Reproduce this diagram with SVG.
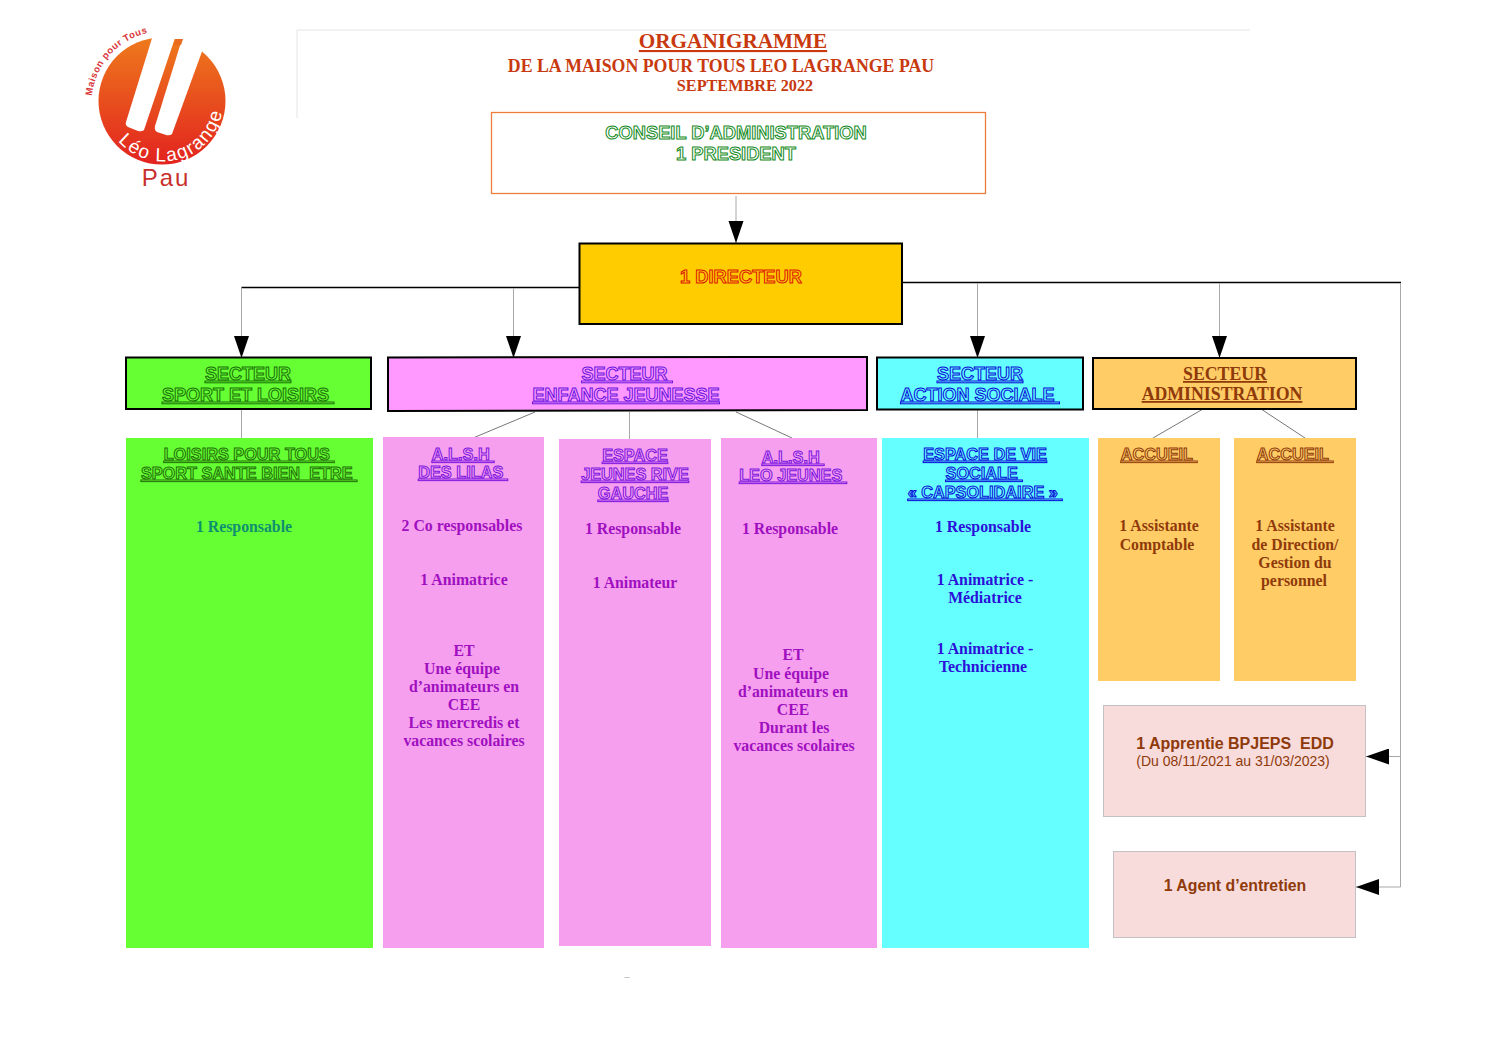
<svg xmlns="http://www.w3.org/2000/svg" width="1497" height="1058" viewBox="0 0 1497 1058">
<style>
text{text-anchor:middle}
.s{font-family:"Liberation Serif",serif;font-weight:bold}
.a{font-family:"Liberation Sans",sans-serif;font-weight:bold}
.o{font-family:"Liberation Sans",sans-serif;font-weight:bold;font-size:18px;stroke-width:1px;text-decoration:underline}
.o2{font-size:16.300px}
.b{font-size:15.800px}
.thin{stroke:#a8a8a8;stroke-width:1;fill:none}
.dk{stroke:#000;stroke-width:1.6;fill:none}
.diag{stroke:#555;stroke-width:.8;fill:none}
.box{stroke:#000;stroke-width:2}
.pk{fill:#f79fef}.or{fill:#ffcc66}.cy{fill:#66ffff}.gr{fill:#66ff33}
.pl{fill:#f8dcdc;stroke:#c4c0c4;stroke-width:1}
.v{fill:#a010c0}.br{fill:#8f3a0a}.bl{fill:#2a10d8}
</style>
<defs>
<marker id="ah" markerWidth="22" markerHeight="16" refX="22" refY="8" orient="auto" markerUnits="userSpaceOnUse"><path d="M0 .5L22 8L0 15.500Z" fill="#000"/></marker>
<marker id="ahl" markerWidth="23" markerHeight="16" refX="23" refY="8" orient="auto" markerUnits="userSpaceOnUse"><path d="M0 0L23 8L0 16Z" fill="#000"/></marker>
<linearGradient id="lg" x1="0" y1="0" x2="0" y2="1"><stop offset="0" stop-color="#ee7a1c"/><stop offset="1" stop-color="#e2231f"/></linearGradient>
<path id="p1" d="M92 96A72 72 0 0 1 152 32"/>
<path id="p2" d="M118 141A60 60 0 0 0 223 104"/>
</defs>

<g id="logo">
<circle cx="162" cy="101" r="63.500" fill="url(#lg)"/>
<path d="M153 35L176 35L144 130Q142 132 138 131L128 127Q125 125 126 122Z" fill="#fff"/>
<path d="M183 36L204 46L172 134Q170 136 166 135L157 132Q154 130 155 126Z" fill="#fff"/>
<path d="M176 32H183V40H176Z" fill="#fff"/>
<path d="M176 39H183L181 45H174Z" fill="#ea6a1e"/>
<text font-family="Liberation Sans,sans-serif" font-weight="bold" font-size="9.500" fill="#d9363a" letter-spacing=".55" style="text-anchor:start"><textPath href="#p1">Maison pour Tous</textPath></text>
<text font-family="Liberation Sans,sans-serif" font-size="19" fill="#fff" letter-spacing="1.500" style="text-anchor:start"><textPath href="#p2">Léo Lagrange</textPath></text>
<text x="166" y="186" font-family="Liberation Sans,sans-serif" font-size="24" fill="#c8302c" letter-spacing="2">Pau</text>
</g>

<g id="title">
<path d="M297 118V30H1250" stroke="#e4e4e4" fill="none"/>
<text class="s" x="733" y="48" font-size="21.200" fill="#c8390f" text-decoration="underline">ORGANIGRAMME</text>
<text class="s" x="721" y="72" font-size="17.800" fill="#c8390f">DE LA MAISON POUR TOUS LEO LAGRANGE PAU</text>
<text class="s" x="745" y="91" font-size="16.200" fill="#c8390f">SEPTEMBRE 2022</text>
</g>

<g id="connectors">
<path class="thin" d="M736 196V243" marker-end="url(#ah)"/>
<path class="dk" d="M580 287.500H241.500"/>
<path class="thin" d="M241.500 288V358" marker-end="url(#ah)"/>
<path class="thin" d="M513.500 288V358" marker-end="url(#ah)"/>
<path class="dk" d="M902 282.500H1401"/>
<path class="thin" d="M977.500 283V358" marker-end="url(#ah)"/>
<path class="thin" d="M1219.500 283V358" marker-end="url(#ah)"/>
<path class="thin" d="M1400.500 283V887H1356" marker-end="url(#ahl)"/>
<path class="thin" d="M1400.500 756.500H1366" marker-end="url(#ahl)"/>
<path class="thin" d="M241.500 409V438"/>
<path class="diag" d="M535 412L473 438"/>
<path class="thin" d="M629.500 412V439"/>
<path class="diag" d="M736 412L792 438"/>
<path class="thin" d="M977.500 410V438"/>
<path class="diag" d="M1203 409L1153 438"/>
<path class="diag" d="M1261 409L1305 438"/>
</g>

<g id="conseil">
<rect x="491.500" y="112.500" width="494" height="81" fill="#fff" stroke="#ed7d3a" stroke-width="1.300"/>
<text class="a" x="736" y="139" font-size="18.300" fill="#fff" stroke="#128a22" stroke-width="1">CONSEIL D’ADMINISTRATION</text>
<text class="a" x="736" y="160" font-size="18.300" fill="#fff" stroke="#128a22" stroke-width="1">1 PRESIDENT</text>
</g>

<g id="directeur">
<rect class="box" x="579.500" y="243.500" width="322.500" height="80.500" fill="#ffcc00" stroke-width="1.600"/>
<text class="a" x="741" y="283" font-size="18.300" fill="#ffcc00" stroke="#dc1408" stroke-width="1">1 DIRECTEUR</text>
</g>

<g id="secteur-sport">
<rect class="box gr" x="126" y="357.500" width="245" height="51.500"/>
<text class="o" x="248" y="380" fill="#66ff33" stroke="#1a7008">SECTEUR</text>
<text class="o" x="248" y="401" fill="#66ff33" stroke="#1a7008" xml:space="preserve">SPORT ET LOISIRS </text>
</g>
<g id="secteur-enfance">
<path class="box" d="M388 357.500L867 357V410L388 411Z" fill="#ff99ff"/>
<text class="o" x="627" y="380" fill="#ff99ff" stroke="#6a14e0" xml:space="preserve">SECTEUR </text>
<text class="o" x="626" y="401" fill="#ff99ff" stroke="#6a14e0">ENFANCE JEUNESSE</text>
</g>
<g id="secteur-action">
<rect class="box" x="877" y="357.500" width="206" height="52" fill="#66ffff"/>
<text class="o" x="980" y="380" fill="#66ffff" stroke="#0808d8">SECTEUR</text>
<text class="o" x="980" y="401" fill="#66ffff" stroke="#0808d8" xml:space="preserve">ACTION SOCIALE </text>
</g>
<g id="secteur-admin">
<rect class="box or" x="1093" y="358" width="263" height="51"/>
<text class="s" x="1225" y="380" font-size="17.800" fill="#8f3a0a" text-decoration="underline">SECTEUR</text>
<text class="s" x="1222" y="400" font-size="17.800" fill="#8f3a0a" text-decoration="underline">ADMINISTRATION</text>
</g>

<g id="loisirs">
<rect class="gr" x="126" y="438" width="247" height="510"/>
<text class="o o2" x="249" y="460" fill="#66ff33" stroke="#227008" xml:space="preserve">LOISIRS POUR TOUS </text>
<text class="o o2" x="249" y="479" fill="#66ff33" stroke="#227008" xml:space="preserve">SPORT SANTE BIEN  ETRE </text>
<text class="s b" x="244" y="532" fill="#0f8f70">1 Responsable</text>
</g>

<g id="alsh-lilas">
<rect class="pk" x="383" y="437" width="161" height="511"/>
<text class="o o2" x="463" y="460" fill="#f79fef" stroke="#7a14e0" xml:space="preserve">A.L.S.H </text>
<text class="o o2" x="463" y="478" fill="#f79fef" stroke="#7a14e0" xml:space="preserve">DES LILAS </text>
<g class="s b v">
<text x="462" y="531">2 Co responsables</text>
<text x="464" y="585">1 Animatrice</text>
<text x="464" y="656">ET</text>
<text x="462" y="674">Une équipe</text>
<text x="464" y="692">d’animateurs en</text>
<text x="464" y="710">CEE</text>
<text x="464" y="728">Les mercredis et</text>
<text x="464" y="746">vacances scolaires</text>
</g>
</g>

<g id="espace-jeunes">
<rect class="pk" x="559" y="439" width="152" height="507"/>
<text class="o o2" x="635" y="461" fill="#f79fef" stroke="#7a14e0">ESPACE</text>
<text class="o o2" x="635" y="480" fill="#f79fef" stroke="#7a14e0">JEUNES RIVE</text>
<text class="o o2" x="633" y="499" fill="#f79fef" stroke="#7a14e0">GAUCHE</text>
<g class="s b v">
<text x="633" y="534">1 Responsable</text>
<text x="635" y="588">1 Animateur</text>
</g>
</g>

<g id="alsh-leo">
<rect class="pk" x="721" y="438" width="156" height="510"/>
<text class="o o2" x="793" y="463" fill="#f79fef" stroke="#7a14e0" xml:space="preserve">A.L.S.H </text>
<text class="o o2" x="793" y="481" fill="#f79fef" stroke="#7a14e0" xml:space="preserve">LEO JEUNES </text>
<g class="s b v">
<text x="790" y="534">1 Responsable</text>
<text x="793" y="660">ET</text>
<text x="791" y="679">Une équipe</text>
<text x="793" y="697">d’animateurs en</text>
<text x="793" y="715">CEE</text>
<text x="794" y="733">Durant les</text>
<text x="794" y="751">vacances scolaires</text>
</g>
</g>

<g id="espace-vie">
<rect class="cy" x="882" y="438" width="207" height="510"/>
<text class="o o2" x="985" y="460" fill="#66ffff" stroke="#0808d8">ESPACE DE VIE</text>
<text class="o o2" x="984" y="479" fill="#66ffff" stroke="#0808d8" xml:space="preserve">SOCIALE </text>
<text class="o o2" x="985" y="498" fill="#66ffff" stroke="#0808d8" xml:space="preserve">« CAPSOLIDAIRE » </text>
<g class="s b bl">
<text x="983" y="532">1 Responsable</text>
<text x="985" y="585">1 Animatrice -</text>
<text x="985" y="603">Médiatrice</text>
<text x="985" y="654">1 Animatrice -</text>
<text x="983" y="672">Technicienne</text>
</g>
</g>

<g id="accueil-1">
<rect class="or" x="1098" y="438" width="122" height="243"/>
<text class="o o2" x="1159" y="460" fill="#ffcc66" stroke="#8f3a0a" xml:space="preserve">ACCUEIL </text>
<g class="s b br">
<text x="1159" y="531">1 Assistante</text>
<text x="1157" y="550">Comptable</text>
</g>
</g>

<g id="accueil-2">
<rect class="or" x="1234" y="438" width="122" height="243"/>
<text class="o o2" x="1295" y="460" fill="#ffcc66" stroke="#8f3a0a" xml:space="preserve">ACCUEIL </text>
<g class="s b br">
<text x="1295" y="531">1 Assistante</text>
<text x="1295" y="550">de Direction/</text>
<text x="1295" y="568">Gestion du</text>
<text x="1294" y="586">personnel</text>
</g>
</g>

<g id="apprentie">
<rect class="pl" x="1103.500" y="705.500" width="262" height="111"/>
<text class="a" x="1235" y="749" font-size="16" fill="#8f3a0a" xml:space="preserve">1 Apprentie BPJEPS  EDD</text>
<text x="1233" y="766" font-family="Liberation Sans,sans-serif" font-size="14" fill="#8f3a0a">(Du 08/11/2021 au 31/03/2023)</text>
</g>

<g id="agent">
<rect class="pl" x="1113.500" y="851.500" width="242" height="86"/>
<text class="a" x="1235" y="891" font-size="15.800" fill="#8f3a0a">1 Agent d’entretien</text>
</g>

<text x="627" y="976" font-family="Liberation Serif,serif" font-size="10" fill="#999">_</text>
</svg>
